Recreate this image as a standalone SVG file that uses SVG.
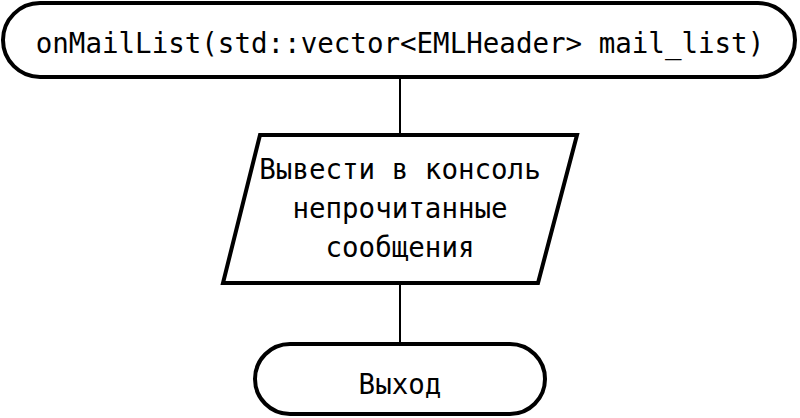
<svg xmlns="http://www.w3.org/2000/svg" width="800" height="418" viewBox="0 0 800 418">
<style>
.s{fill:#fff;stroke:#000;stroke-width:4}
.t{font-family:"DejaVu Sans Mono",monospace;font-size:27.5px;fill:#000;text-anchor:middle}
.c{stroke:#000;stroke-width:2;fill:none}
</style>
<rect width="800" height="418" fill="#fff"/>
<g id="connectors">
<line class="c" x1="400" y1="77" x2="400" y2="135"/>
<line class="c" x1="400" y1="283" x2="400" y2="344"/>
</g>
<g id="start">
<rect class="s" x="3" y="3" width="792" height="74" rx="37"/>
<text class="t" x="400" y="53">onMailList(std::vector&lt;EMLHeader&gt; mail_list)</text>
</g>
<g id="output">
<polygon class="s" points="260,135 577,135 538,283 223,283"/>
<text class="t" x="400" y="179">Вывести в консоль</text>
<text class="t" x="400" y="218">непрочитанные</text>
<text class="t" x="400" y="257">сообщения</text>
</g>
<g id="exit">
<rect class="s" x="255" y="344" width="290" height="70" rx="35"/>
<text class="t" x="400" y="394">Выход</text>
</g>
</svg>
